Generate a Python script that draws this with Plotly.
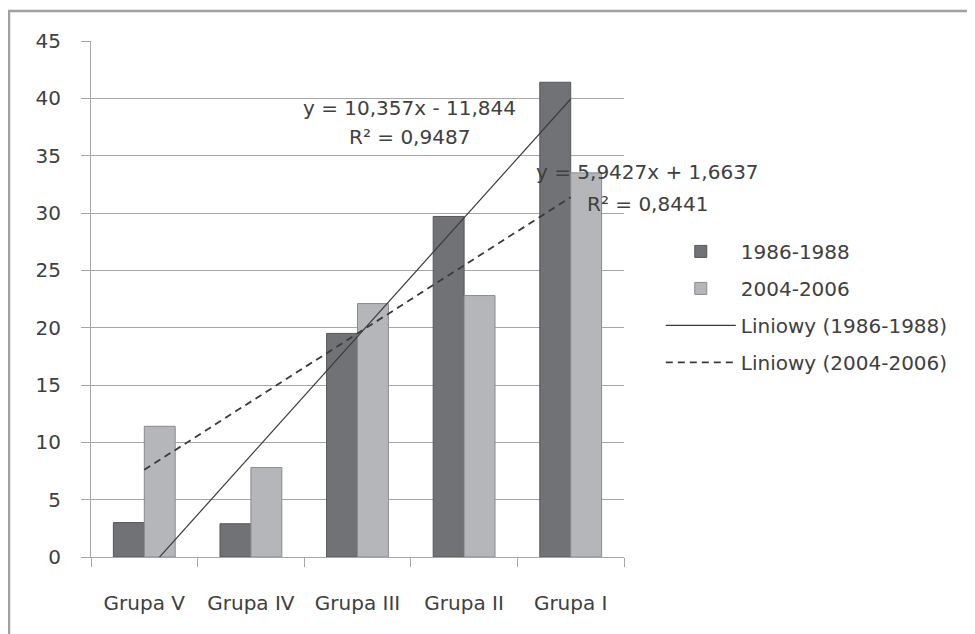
import plotly.graph_objects as go

categories = ["Grupa V", "Grupa IV", "Grupa III", "Grupa II", "Grupa I"]
series_names = ["1986-1988", "2004-2006"]
values_1986 = [3.0, 2.9, 19.5, 29.7, 41.4]
values_2004 = [11.4, 7.8, 22.1, 22.8, 33.5]

# trendline coefficients as printed on the chart
trend_1986 = {"slope": 10.357, "intercept": -11.844, "r2": "0,9487",
              "label": "y = 10,357x - 11,844"}
trend_2004 = {"slope": 5.9427, "intercept": 1.6637, "r2": "0,8441",
              "label": "y = 5,9427x + 1,6637"}
y_ticks = [0, 5, 10, 15, 20, 25, 30, 35, 40, 45]

FONT = "DejaVu Sans"
TXT = "#404040"
GRID = "#a6a6a6"

def trend_values(t):
    return [t["slope"] * (i + 1) + t["intercept"] for i in range(len(categories))]

fig = go.Figure()
fig.add_trace(go.Bar(
    x=categories, y=values_1986, name=series_names[0],
    marker=dict(color="#717276", line=dict(color="#55565a", width=1)),
    legendgroup="a",
))
fig.add_trace(go.Bar(
    x=categories, y=values_2004, name=series_names[1],
    marker=dict(color="#b5b6b9", line=dict(color="#8a8b8e", width=1)),
    legendgroup="b",
))
fig.add_trace(go.Scatter(
    x=categories, y=trend_values(trend_1986), mode="lines",
    name="Liniowy (1986-1988)", line=dict(color="#3a3a3a", width=1.2),
    legendgroup="c",
))
fig.add_trace(go.Scatter(
    x=categories, y=trend_values(trend_2004), mode="lines",
    name="Liniowy (2004-2006)", line=dict(color="#3a3a3a", width=1.8, dash="7px,5px"),
    legendgroup="d",
))

ann_font = dict(family=FONT, size=20, color=TXT)
annotations = [
    dict(x=2.488, y=39.2, xref="x", yref="y", text=trend_1986["label"], showarrow=False,
         font=ann_font, xanchor="center"),
    dict(x=2.488, y=36.6, xref="x", yref="y", text="R² = " + trend_1986["r2"], showarrow=False,
         font=ann_font, xanchor="center"),
    dict(x=1.045, y=33.6, xref="paper", yref="y", text=trend_2004["label"], showarrow=False,
         font=ann_font, xanchor="center"),
    dict(x=1.045, y=30.8, xref="paper", yref="y", text="R² = " + trend_2004["r2"], showarrow=False,
         font=ann_font, xanchor="center"),
]

fig.update_layout(
    width=975, height=634,
    margin=dict(l=83, r=359, t=33, b=85, autoexpand=False),
    paper_bgcolor="white", plot_bgcolor="white",
    font=dict(family=FONT, size=20, color=TXT),
    barmode="group", bargap=0.42, bargroupgap=0,
    showlegend=True,
    legend=dict(
        x=1.069, xanchor="left", y=0.63, yanchor="top",
        traceorder="grouped", tracegroupgap=8, itemwidth=70,
        font=dict(family=FONT, size=20, color=TXT),
        bgcolor="rgba(0,0,0,0)",
    ),
    annotations=annotations,
    shapes=[dict(type="rect", xref="paper", yref="paper",
                 x0=(9 - 91) / 533, x1=1.8, y0=-0.5, y1=(557 - 11) / 516,
                 line=dict(color="#a0a0a0", width=2.5), fillcolor="rgba(0,0,0,0)",
                 layer="below")],
)
fig.update_xaxes(
    type="category", categoryorder="array", categoryarray=categories,
    range=[-0.5, len(categories) - 0.5], automargin=False, tickangle=0,
    showline=True, linecolor=GRID, linewidth=1,
    ticks="outside", tickson="boundaries", ticklen=9, tickcolor=GRID,
    showgrid=False, ticklabelstandoff=28,
    tickfont=dict(family=FONT, size=20, color=TXT),
)
fig.update_yaxes(
    range=[0, 45], tickvals=y_ticks, automargin=False,
    showline=True, linecolor=GRID, linewidth=1,
    showgrid=True, gridcolor=GRID, gridwidth=1,
    ticks="outside", ticklen=9, tickcolor=GRID,
    zeroline=False, ticklabelstandoff=16,
    tickfont=dict(family=FONT, size=20, color=TXT),
)

fig.write_html("out.html")
